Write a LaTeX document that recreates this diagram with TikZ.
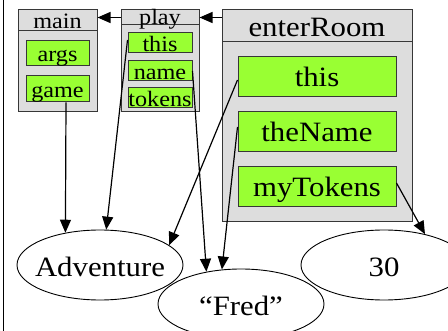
\documentclass[tikz,border=0pt]{standalone}
\usepackage{fontspec}
\setmainfont{Liberation Serif}[FakeStretch=1.1]
\usetikzlibrary{arrows.meta,shapes.geometric}
\definecolor{framegray}{RGB}{221,221,221}
\definecolor{slotgreen}{RGB}{153,255,51}
\definecolor{edgegray}{RGB}{55,55,55}
\newcommand{\objlabel}[1]{\raisebox{-11.5pt}{\makebox[0pt]{#1}}}

\begin{document}
\begin{tikzpicture}[x=1pt,y=-1pt,
  frame/.style={draw=edgegray, fill=framegray, line width=1pt, rectangle, inner sep=0pt},
  slot/.style={draw=edgegray, fill=slotgreen, line width=1pt, rectangle, inner sep=0pt},
  small/.style={font=\fontsize{22}{26}\selectfont, text height=17pt, text depth=0pt},
  big/.style={font=\fontsize{28}{33}\selectfont, text height=20pt, text depth=0pt},
  obj/.style={draw=black, ellipse, line width=0.9pt, minimum width=166pt, minimum height=70pt,
    inner sep=0pt, font=\fontsize{28}{33}\selectfont, text height=0pt, text depth=0pt},
  ref/.style={draw=black, line width=1.2pt, -{Triangle[length=13pt,width=11pt]}}
]
\useasboundingbox (0,0) rectangle (448,331);
\clip (0,0) rectangle (448,331);

% left page edge
\draw[line width=0.8pt] (3,0) -- (3,331);

% stack frame: main
\node[frame, minimum width=79pt, minimum height=102pt] (mainframe) at (57.5,61) {};
\node[frame, small, minimum width=79pt, minimum height=21pt] (mainhead) at (57.5,20.5) {main};
\node[slot, small, minimum width=63pt, minimum height=25pt] (margs) at (57.5,53.5) {args};
\node[slot, small, minimum width=63pt, minimum height=26pt] (mgame) at (57.5,89) {game};

% stack frame: play
\node[frame, minimum width=78pt, minimum height=102pt] (playframe) at (160,61) {};
\node[frame, small, text height=15pt, minimum width=78pt, minimum height=15pt] (playhead) at (160,17.5) {play};
\node[slot, small, minimum width=64pt, minimum height=20pt] (pthis) at (160,43) {this};
\node[slot, small, minimum width=64pt, minimum height=20pt] (pname) at (160,71) {name};
\node[slot, small, minimum width=64pt, minimum height=20pt] (ptokens) at (160,98) {tokens};

% stack frame: enterRoom
\node[frame, minimum width=190pt, minimum height=212pt] (enterframe) at (317,116) {};
\node[frame, big, text height=22pt, minimum width=190pt, minimum height=32pt] (enterhead) at (317,26) {enterRoom};
\node[slot, big, minimum width=158pt, minimum height=40pt] (ethis) at (317,77) {this};
\node[slot, big, minimum width=158pt, minimum height=40pt] (ename) at (317,132) {theName};
\node[slot, big, minimum width=158pt, minimum height=40pt] (etokens) at (317,187) {myTokens};

% heap objects
\node[obj] (adv) at (100,265) {\objlabel{Adventure}};
\node[obj] (fred) at (241,304) {\objlabel{“Fred”}};
\node[obj] (thirty) at (384,265) {\objlabel{30}};

% caller links between frames
\draw[ref] (enterhead.west |- playhead.east) -- (playhead.east);
\draw[ref] (playhead.west) -- (mainhead.east |- playhead.west);

% references from slots to objects
\draw[ref] ([xshift=8.5pt]mgame.south) -- (adv.137);
\draw[ref] ([yshift=3pt]pthis.west) -- (adv.80);
\draw[ref] (pname.east) -- (fred.137);
\draw[ref] ([yshift=-3pt]ethis.west) -- (adv.16);
\draw[ref] ([yshift=5pt]ename.west) -- (fred.119);
\draw[ref] ([yshift=4pt]etokens.east) -- (thirty.37);
\end{tikzpicture}
\end{document}
